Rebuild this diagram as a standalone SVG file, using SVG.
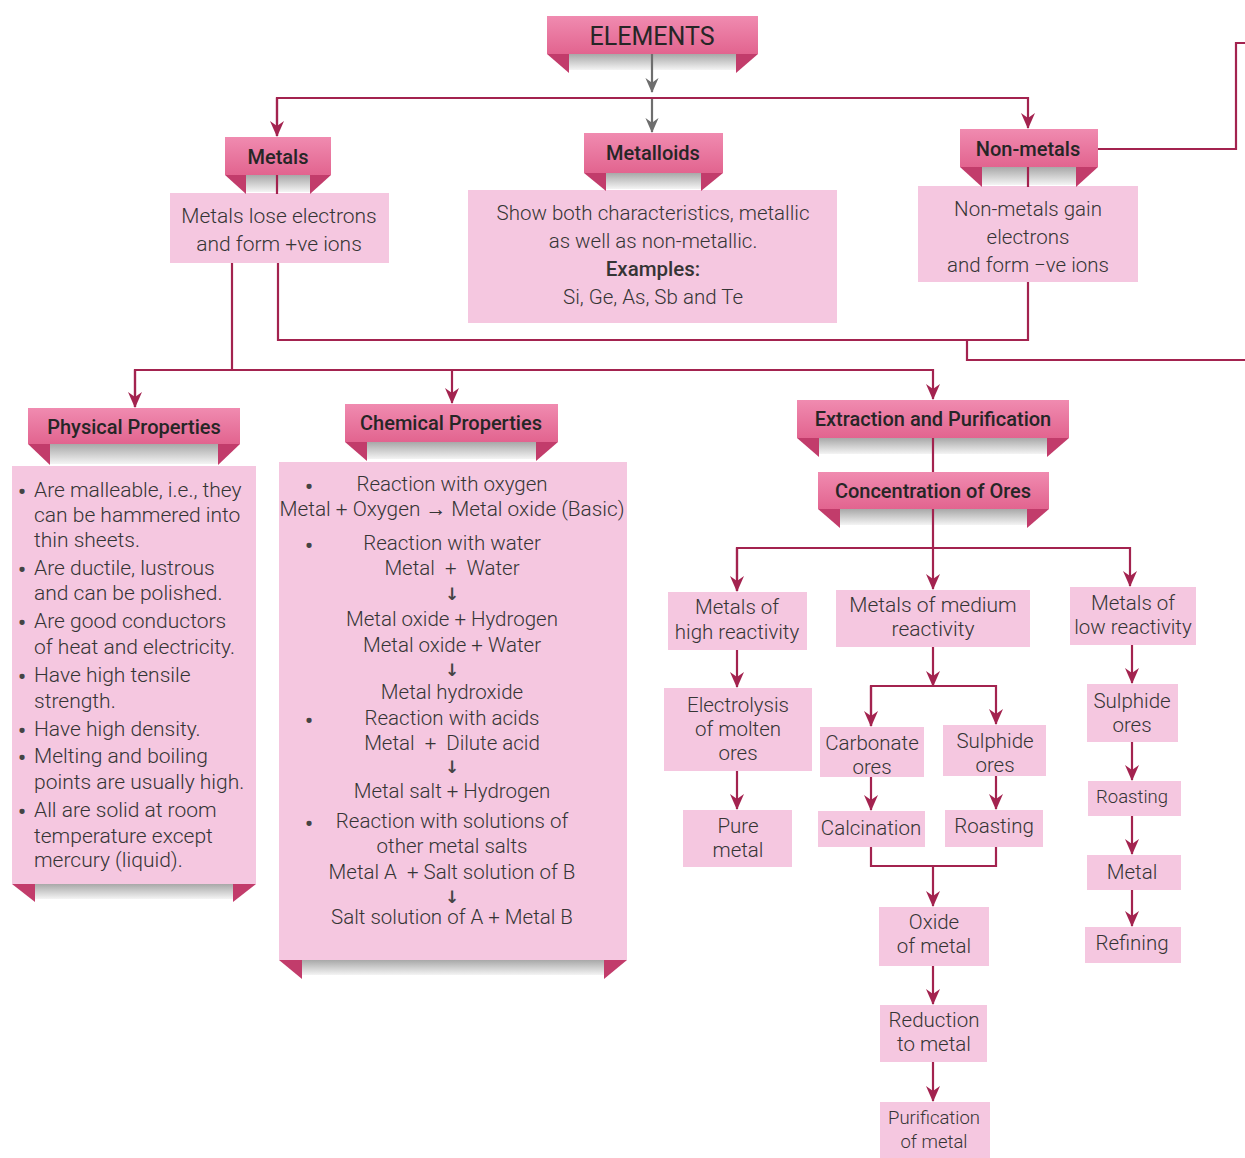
<svg xmlns="http://www.w3.org/2000/svg" width="1245" height="1158" viewBox="0 0 1245 1158">
<defs>
  <linearGradient id="bannerGrad" x1="0" y1="0" x2="0" y2="1">
    <stop offset="0" stop-color="#f08bb0"/>
    <stop offset="1" stop-color="#e2648f"/>
  </linearGradient>
  <linearGradient id="stripGrad" x1="0" y1="0" x2="0" y2="1">
    <stop offset="0" stop-color="#a8a8a8"/>
    <stop offset="1" stop-color="#f4f4f4"/>
  </linearGradient>
  <marker id="ah" viewBox="0 0 16 16" refX="15" refY="8" markerWidth="16" markerHeight="16" markerUnits="userSpaceOnUse" orient="auto">
    <path d="M0,1 L16,8 L0,15 L5,8 z" fill="#a3234f"/>
  </marker>
  <marker id="ahg" viewBox="0 0 16 16" refX="15" refY="8" markerWidth="15" markerHeight="15" markerUnits="userSpaceOnUse" orient="auto">
    <path d="M0,1 L16,8 L0,15 L5,8 z" fill="#6e6e6e"/>
  </marker>
</defs>
<style>
  .ban { fill: url(#bannerGrad); }
  .tail { fill: #c23c6b; }
  .strip { fill: url(#stripGrad); }
  .box { fill: #f5c7e0; }
  .ln { fill: none; stroke: #a3234f; stroke-width: 2.2; }
  .lg { fill: none; stroke: #6e6e6e; stroke-width: 2.2; }
  text { font-family: Roboto, "Liberation Sans", sans-serif; fill: #353535; }
  .ttl { font-size: 20px; font-weight: 500; text-anchor: middle; dominant-baseline: central; fill: #262626; }
  .t { font-size: 20.5px; font-weight: 300; text-anchor: middle; dominant-baseline: central; }
  .tl { font-size: 21px; font-weight: 300; dominant-baseline: central; }
  .bul { font-size: 22px; font-weight: 700; text-anchor: middle; dominant-baseline: central; fill: #444; }
  .dar { font-family: "DejaVu Sans", sans-serif; font-size: 17px; font-weight: 700; text-anchor: middle; dominant-baseline: central; fill: #444; }
</style>

<rect width="1245" height="1158" fill="#ffffff"/>

<g id="metals-desc">
  <rect class="box" x="170" y="193" width="219" height="70"/>
  <text class="t" x="279" y="216" style="font-size:21px">Metals lose electrons</text>
  <text class="t" x="279" y="244" style="font-size:21px">and form +ve ions</text>
</g>
<g id="metalloids-desc">
  <rect class="box" x="468" y="190" width="369" height="133"/>
  <text class="t" x="653" y="213">Show both characteristics, metallic</text>
  <text class="t" x="653" y="241">as well as non-metallic.</text>
  <text class="t" x="653" y="269" style="font-weight:500">Examples:</text>
  <text class="t" x="653" y="297">Si, Ge, As, Sb and Te</text>
</g>
<g id="nonmetals-desc">
  <rect class="box" x="918" y="186" width="220" height="96"/>
  <text class="t" x="1028" y="209">Non-metals gain</text>
  <text class="t" x="1028" y="237">electrons</text>
  <text class="t" x="1028" y="265">and form −ve ions</text>
</g>

<g id="elements">
  <rect class="strip" x="569" y="54" width="167" height="16"/>
  <polygon class="tail" points="547,54 569,54 569,73"/>
  <polygon class="tail" points="758,54 736,54 736,73"/>
  <rect class="ban" x="547" y="16" width="211" height="38"/>
  <text class="ttl" x="652" y="36" style="font-size:25px;font-weight:400">ELEMENTS</text>
</g>
<g id="metals">
  <rect class="strip" x="246" y="175" width="64" height="17"/>
  <polygon class="tail" points="225,175 246,175 246,194"/>
  <polygon class="tail" points="331,175 310,175 310,194"/>
  <rect class="ban" x="225" y="137" width="106" height="38"/>
  <text class="ttl" x="278" y="157">Metals</text>
</g>
<g id="metalloids">
  <rect class="strip" x="606" y="173" width="95" height="16"/>
  <polygon class="tail" points="584,173 606,173 606,191"/>
  <polygon class="tail" points="723,173 701,173 701,191"/>
  <rect class="ban" x="584" y="133" width="139" height="40"/>
  <text class="ttl" x="653" y="153">Metalloids</text>
</g>
<g id="nonmetals">
  <rect class="strip" x="982" y="167" width="94" height="18"/>
  <polygon class="tail" points="960,167 982,167 982,187"/>
  <polygon class="tail" points="1098,167 1076,167 1076,187"/>
  <rect class="ban" x="960" y="129" width="138" height="38"/>
  <text class="ttl" x="1028" y="149">Non-metals</text>
</g>

<g id="physical">
  <rect class="box" x="12" y="466" width="244" height="418"/>
  <rect class="strip" x="35" y="884" width="198" height="15"/>
  <polygon class="tail" points="12,884 35,884 35,902"/>
  <polygon class="tail" points="256,884 233,884 233,902"/>
  <rect class="strip" x="50" y="444" width="168" height="20"/>
  <polygon class="tail" points="28,444 50,444 50,465"/>
  <polygon class="tail" points="240,444 218,444 218,465"/>
  <rect class="ban" x="28" y="408" width="212" height="36"/>
  <text class="ttl" x="134" y="427">Physical Properties</text>
  <text class="bul" x="22" y="491">•</text>
  <text class="tl" x="34" y="490">Are malleable, i.e., they</text>
  <text class="tl" x="34" y="515">can be hammered into</text>
  <text class="tl" x="34" y="540">thin sheets.</text>
  <text class="bul" x="22" y="569">•</text>
  <text class="tl" x="34" y="568">Are ductile, lustrous</text>
  <text class="tl" x="34" y="593">and can be polished.</text>
  <text class="bul" x="22" y="622">•</text>
  <text class="tl" x="34" y="621">Are good conductors</text>
  <text class="tl" x="34" y="647">of heat and electricity.</text>
  <text class="bul" x="22" y="676">•</text>
  <text class="tl" x="34" y="675">Have high tensile</text>
  <text class="tl" x="34" y="701">strength.</text>
  <text class="bul" x="22" y="730">•</text>
  <text class="tl" x="34" y="729">Have high density.</text>
  <text class="bul" x="22" y="757">•</text>
  <text class="tl" x="34" y="756">Melting and boiling</text>
  <text class="tl" x="34" y="782">points are usually high.</text>
  <text class="bul" x="22" y="811">•</text>
  <text class="tl" x="34" y="810">All are solid at room</text>
  <text class="tl" x="34" y="836">temperature except</text>
  <text class="tl" x="34" y="860">mercury (liquid).</text>
</g>

<g id="chemical">
  <rect class="box" x="279" y="462" width="348" height="498"/>
  <rect class="strip" x="302" y="960" width="302" height="15"/>
  <polygon class="tail" points="279,960 302,960 302,979"/>
  <polygon class="tail" points="627,960 604,960 604,979"/>
  <rect class="strip" x="367" y="442" width="169" height="17"/>
  <polygon class="tail" points="345,442 367,442 367,461"/>
  <polygon class="tail" points="558,442 536,442 536,461"/>
  <rect class="ban" x="345" y="404" width="213" height="38"/>
  <text class="ttl" x="451" y="423">Chemical Properties</text>
  <text class="bul" x="309" y="486">•</text>
  <text class="t" x="452" y="484">Reaction with oxygen</text>
  <text class="t" x="452" y="509" style="font-size:20.8px">Metal + Oxygen → Metal oxide (Basic)</text>
  <text class="bul" x="309" y="545">•</text>
  <text class="t" x="452" y="543">Reaction with water</text>
  <text class="t" x="452" y="568" xml:space="preserve">Metal  +  Water</text>
  <text class="dar" x="452" y="594">↓</text>
  <text class="t" x="452" y="619">Metal oxide + Hydrogen</text>
  <text class="t" x="452" y="645">Metal oxide + Water</text>
  <text class="dar" x="452" y="670">↓</text>
  <text class="t" x="452" y="692">Metal hydroxide</text>
  <text class="bul" x="309" y="720">•</text>
  <text class="t" x="452" y="718">Reaction with acids</text>
  <text class="t" x="452" y="743" xml:space="preserve">Metal  +  Dilute acid</text>
  <text class="dar" x="452" y="767">↓</text>
  <text class="t" x="452" y="791">Metal salt + Hydrogen</text>
  <text class="bul" x="309" y="823">•</text>
  <text class="t" x="452" y="821">Reaction with solutions of</text>
  <text class="t" x="452" y="846">other metal salts</text>
  <text class="t" x="452" y="872" xml:space="preserve">Metal A  + Salt solution of B</text>
  <text class="dar" x="452" y="897">↓</text>
  <text class="t" x="452" y="917">Salt solution of A + Metal B</text>
</g>

<g id="extraction">
  <rect class="strip" x="819" y="438" width="228" height="16"/>
  <polygon class="tail" points="797,438 819,438 819,457"/>
  <polygon class="tail" points="1069,438 1047,438 1047,457"/>
  <rect class="ban" x="797" y="400" width="272" height="38"/>
  <text class="ttl" x="933" y="419">Extraction and Purification</text>
</g>
<g id="concentration">
  <rect class="strip" x="840" y="509" width="187" height="16"/>
  <polygon class="tail" points="818,509 840,509 840,528"/>
  <polygon class="tail" points="1049,509 1027,509 1027,528"/>
  <rect class="ban" x="818" y="472" width="231" height="37"/>
  <text class="ttl" x="933" y="491">Concentration of Ores</text>
</g>

<g id="high">
  <rect class="box" x="668" y="592" width="139" height="58"/>
  <text class="t" x="737" y="607">Metals of</text>
  <text class="t" x="737" y="632">high reactivity</text>
</g>
<g id="electrolysis">
  <rect class="box" x="664" y="688" width="148" height="83"/>
  <text class="t" x="738" y="705">Electrolysis</text>
  <text class="t" x="738" y="729">of molten</text>
  <text class="t" x="738" y="753">ores</text>
</g>
<g id="pure">
  <rect class="box" x="683" y="810" width="109" height="57"/>
  <text class="t" x="738" y="826">Pure</text>
  <text class="t" x="738" y="850">metal</text>
</g>
<g id="medium">
  <rect class="box" x="836" y="590" width="194" height="57"/>
  <text class="t" x="933" y="605" style="font-size:21px">Metals of medium</text>
  <text class="t" x="933" y="629" style="font-size:21px">reactivity</text>
</g>
<g id="carbonate">
  <rect class="box" x="820" y="727" width="104" height="50"/>
  <text class="t" x="872" y="743">Carbonate</text>
  <text class="t" x="872" y="767">ores</text>
</g>
<g id="sulphide-mid">
  <rect class="box" x="943" y="725" width="103" height="51"/>
  <text class="t" x="995" y="741">Sulphide</text>
  <text class="t" x="995" y="765">ores</text>
</g>
<g id="calcination">
  <rect class="box" x="818" y="811" width="107" height="36"/>
  <text class="t" x="871" y="828">Calcination</text>
</g>
<g id="roasting-mid">
  <rect class="box" x="945" y="810" width="98" height="37"/>
  <text class="t" x="994" y="826">Roasting</text>
</g>
<g id="oxide">
  <rect class="box" x="879" y="907" width="110" height="59"/>
  <text class="t" x="934" y="922">Oxide</text>
  <text class="t" x="934" y="946">of metal</text>
</g>
<g id="reduction">
  <rect class="box" x="880" y="1005" width="107" height="57"/>
  <text class="t" x="934" y="1020">Reduction</text>
  <text class="t" x="934" y="1044">to metal</text>
</g>
<g id="purification">
  <rect class="box" x="880" y="1102" width="110" height="56"/>
  <text class="t" x="934" y="1118" style="font-size:18.5px">Purification</text>
  <text class="t" x="934" y="1142" style="font-size:18.5px">of metal</text>
</g>
<g id="low">
  <rect class="box" x="1070" y="587" width="126" height="58"/>
  <text class="t" x="1133" y="603">Metals of</text>
  <text class="t" x="1133" y="627">low reactivity</text>
</g>
<g id="sulphide-low">
  <rect class="box" x="1087" y="684" width="91" height="58"/>
  <text class="t" x="1132" y="701">Sulphide</text>
  <text class="t" x="1132" y="725">ores</text>
</g>
<g id="roasting-low">
  <rect class="box" x="1088" y="781" width="93" height="35"/>
  <text class="t" x="1132" y="797" style="font-size:18.5px">Roasting</text>
</g>
<g id="metal-low">
  <rect class="box" x="1087" y="855" width="94" height="35"/>
  <text class="t" x="1132" y="872">Metal</text>
</g>
<g id="refining">
  <rect class="box" x="1085" y="927" width="96" height="36"/>
  <text class="t" x="1132" y="943">Refining</text>
</g>

<g id="connectors">
  <line class="lg" x1="652" y1="54" x2="652" y2="92" marker-end="url(#ahg)"/>
  <line class="lg" x1="652" y1="98" x2="652" y2="132" marker-end="url(#ahg)"/>
  <polyline class="ln" points="277,136 277,98 1028,98 1028,128" marker-end="url(#ah)"/>
  <line class="ln" x1="277" y1="98" x2="277" y2="136" marker-end="url(#ah)"/>
  <line class="ln" x1="277" y1="175" x2="277" y2="194"/>
  <line class="ln" x1="1028" y1="167" x2="1028" y2="187"/>
  <polyline class="ln" points="1098,149 1236,149 1236,43 1245,43"/>
  <polyline class="ln" points="278,263 278,340 1028,340 1028,282"/>
  <polyline class="ln" points="967,340 967,360 1245,360"/>
  <line class="ln" x1="232" y1="263" x2="232" y2="370"/>
  <polyline class="ln" points="135,407 135,370 933,370 933,399" marker-end="url(#ah)"/>
  <line class="ln" x1="135" y1="370" x2="135" y2="407" marker-end="url(#ah)"/>
  <line class="ln" x1="452" y1="370" x2="452" y2="403" marker-end="url(#ah)"/>
  <line class="ln" x1="933" y1="438" x2="933" y2="472"/>
  <line class="ln" x1="933" y1="509" x2="933" y2="548"/>
  <polyline class="ln" points="737,591 737,548 1130,548 1130,586" marker-end="url(#ah)"/>
  <line class="ln" x1="737" y1="548" x2="737" y2="591" marker-end="url(#ah)"/>
  <line class="ln" x1="933" y1="548" x2="933" y2="589" marker-end="url(#ah)"/>
  <line class="ln" x1="737" y1="650" x2="737" y2="687" marker-end="url(#ah)"/>
  <line class="ln" x1="737" y1="771" x2="737" y2="809" marker-end="url(#ah)"/>
  <line class="ln" x1="933" y1="647" x2="933" y2="686" marker-end="url(#ah)"/>
  <polyline class="ln" points="871,726 871,686 996,686 996,724" marker-end="url(#ah)"/>
  <line class="ln" x1="871" y1="686" x2="871" y2="726" marker-end="url(#ah)"/>
  <line class="ln" x1="871" y1="777" x2="871" y2="810" marker-end="url(#ah)"/>
  <line class="ln" x1="996" y1="776" x2="996" y2="809" marker-end="url(#ah)"/>
  <polyline class="ln" points="871,847 871,866 996,866 996,847"/>
  <line class="ln" x1="933" y1="866" x2="933" y2="906" marker-end="url(#ah)"/>
  <line class="ln" x1="933" y1="966" x2="933" y2="1004" marker-end="url(#ah)"/>
  <line class="ln" x1="933" y1="1062" x2="933" y2="1101" marker-end="url(#ah)"/>
  <line class="ln" x1="1132" y1="645" x2="1132" y2="683" marker-end="url(#ah)"/>
  <line class="ln" x1="1132" y1="742" x2="1132" y2="780" marker-end="url(#ah)"/>
  <line class="ln" x1="1132" y1="816" x2="1132" y2="854" marker-end="url(#ah)"/>
  <line class="ln" x1="1132" y1="890" x2="1132" y2="926" marker-end="url(#ah)"/>
</g>
</svg>
